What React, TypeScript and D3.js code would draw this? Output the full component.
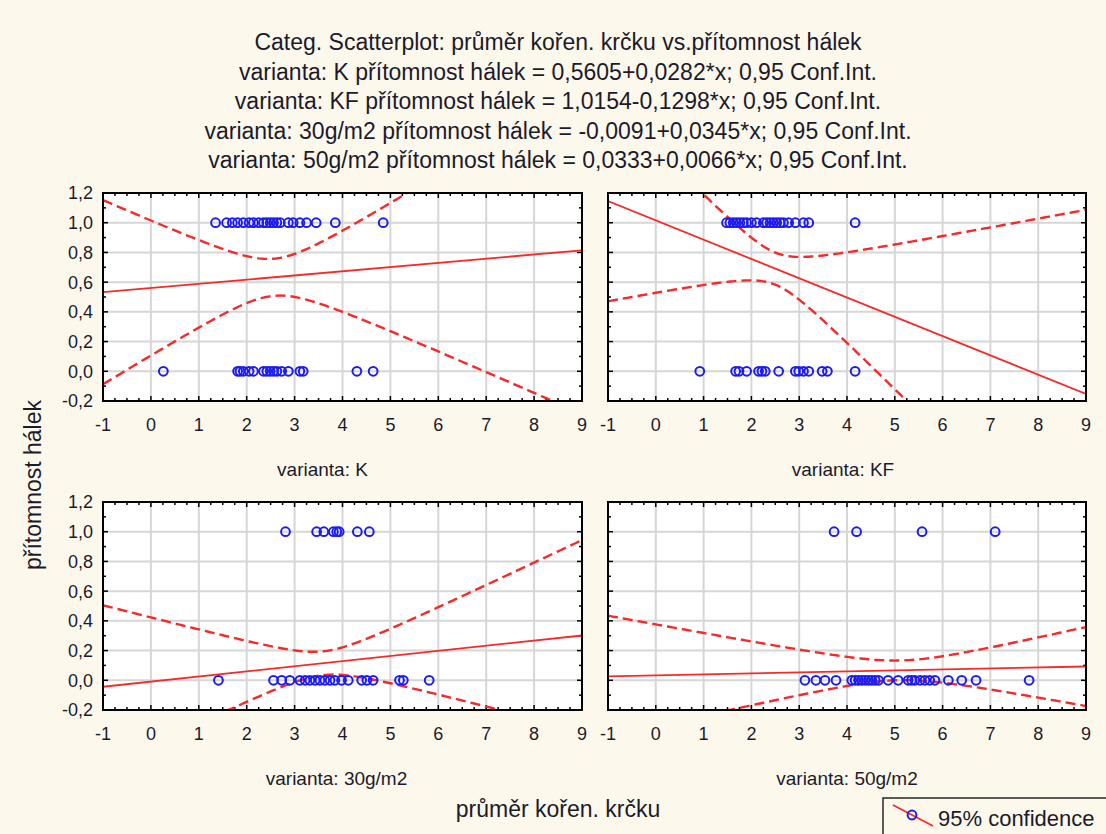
import React from "react";
import * as d3 from "d3";

// ---- data ----
const panelNames = ["K", "KF", "30g/m2", "50g/m2"];
const equations = [
  "0,5605+0,0282*x",
  "1,0154-0,1298*x",
  "-0,0091+0,0345*x",
  "0,0333+0,0066*x",
];
const intercepts = [0.5605, 1.0154, -0.0091, 0.0333];
const slopes = [0.0282, -0.1298, 0.0345, 0.0066];

// 95% confidence band: center of x, half width at center, growth term
const ciCenterX = [2.57, 2.5, 3.6, 5.1];
const ciHalfAtCenter = [0.125, 0.108, 0.08, 0.066];
const ciGrowth = [0.17, 0.19, 0.118, 0.066];

// průměr kořen. krčku values where přítomnost hálek = 1 / = 0
const kOne = [1.35, 1.58, 1.7, 1.81, 1.93, 2.05, 2.14, 2.25, 2.35, 2.42, 2.49, 2.56, 2.63, 2.7, 2.87, 2.97, 3.11, 3.25, 3.45, 3.85, 4.85];
const kZero = [0.26, 1.81, 1.86, 1.93, 2.05, 2.14, 2.35, 2.42, 2.49, 2.56, 2.63, 2.73, 2.87, 3.11, 3.18, 4.3, 4.64];
const kfOne = [1.48, 1.55, 1.62, 1.69, 1.76, 1.83, 1.9, 2.0, 2.11, 2.25, 2.32, 2.39, 2.46, 2.53, 2.6, 2.67, 2.78, 2.92, 3.09, 3.2, 4.17];
const kfZero = [0.92, 1.67, 1.74, 1.9, 2.15, 2.22, 2.29, 2.57, 2.92, 2.99, 3.09, 3.2, 3.48, 3.59, 4.17];
const g30One = [2.81, 3.46, 3.61, 3.81, 3.88, 3.93, 4.31, 4.56];
const g30Zero = [1.41, 2.56, 2.73, 2.9, 3.11, 3.22, 3.32, 3.43, 3.53, 3.63, 3.74, 3.84, 3.98, 4.12, 4.4, 4.51, 4.64, 5.19, 5.27, 5.81];
const g50One = [3.73, 4.2, 5.57, 7.1];
const g50Zero = [3.12, 3.35, 3.54, 3.77, 4.1, 4.17, 4.24, 4.31, 4.38, 4.45, 4.52, 4.59, 4.66, 4.86, 5.07, 5.28, 5.35, 5.42, 5.53, 5.63, 5.73, 5.84, 6.12, 6.4, 6.7, 7.81];
const onesByPanel = [kOne, kfOne, g30One, g50One];
const zerosByPanel = [kZero, kfZero, g30Zero, g50Zero];

const xTicks = [-1, 0, 1, 2, 3, 4, 5, 6, 7, 8, 9];
const yTicks = [-0.2, 0, 0.2, 0.4, 0.6, 0.8, 1.0, 1.2];

// ---- layout ----
const W = 1106;
const H = 834;
const COLS = [
  [103, 582],
  [608, 1086],
];
const ROWS = [
  [193, 401],
  [502, 710],
];
const LABEL_SHIFT = [-20, -4, -6, 0]; // panel caption offsets
const FONT = "'Liberation Sans', Arial, sans-serif";
const BG = "#fdf8ec";
const RED = "#f52a2a";
const BLUE = "#1c1cf0";
const INK = "#1b1b2b";

const fmt = (v: number) => d3.format(".1f")(v).replace(".", ",").replace("−", "-");

function Panel({ i }: { i: number }) {
  const [x0, x1] = COLS[i % 2];
  const [y0, y1] = ROWS[Math.floor(i / 2)];
  const x = d3.scaleLinear().domain([-1, 9]).range([x0, x1]);
  const y = d3.scaleLinear().domain([-0.2, 1.2]).range([y1, y0]);
  const fit = (v: number) => intercepts[i] + slopes[i] * v;
  const half = (v: number) =>
    Math.sqrt(ciHalfAtCenter[i] ** 2 + (ciGrowth[i] * (v - ciCenterX[i])) ** 2);
  const xs = d3.range(-1, 9.0001, 0.05);
  const line = d3
    .line<number>()
    .x((v) => x(v))
    .y((v) => y(fit(v)));
  const upper = d3
    .line<number>()
    .x((v) => x(v))
    .y((v) => y(fit(v) + half(v)));
  const lower = d3
    .line<number>()
    .x((v) => x(v))
    .y((v) => y(fit(v) - half(v)));
  const minorX = d3.range(-1, 9.0001, 0.25);
  const minorY = d3.range(-0.2, 1.2001, 0.1);
  const clipId = `clip-${i}`;
  const leftCol = i % 2 === 0;
  const cx = (x0 + x1) / 2 + LABEL_SHIFT[i];

  return (
    <g>
      <defs>
        <clipPath id={clipId}>
          <rect x={x0} y={y0} width={x1 - x0} height={y1 - y0} />
        </clipPath>
      </defs>
      <rect x={x0} y={y0} width={x1 - x0} height={y1 - y0} fill="#fff" />
      {/* grid */}
      {xTicks.slice(1, -1).map((t) => (
        <line key={"gx" + t} x1={x(t)} x2={x(t)} y1={y0} y2={y1} stroke="#d6d6d6" strokeWidth={2} />
      ))}
      {yTicks.slice(1, -1).map((t) => (
        <line key={"gy" + t} x1={x0} x2={x1} y1={y(t)} y2={y(t)} stroke="#d6d6d6" strokeWidth={2} />
      ))}
      {/* minor/major ticks, inward on all sides */}
      {minorX.map((t, k) => {
        const len = k % 4 === 0 ? 5 : 3;
        return (
          <g key={"tx" + k}>
            <line x1={x(t)} x2={x(t)} y1={y0} y2={y0 + len} stroke="#000" strokeWidth={1.5} />
            <line x1={x(t)} x2={x(t)} y1={y1} y2={y1 - len} stroke="#000" strokeWidth={1.5} />
          </g>
        );
      })}
      {minorY.map((t, k) => {
        const len = k % 2 === 0 ? 5 : 3;
        return (
          <g key={"ty" + k}>
            <line x1={x0} x2={x0 + len} y1={y(t)} y2={y(t)} stroke="#000" strokeWidth={1.5} />
            <line x1={x1} x2={x1 - len} y1={y(t)} y2={y(t)} stroke="#000" strokeWidth={1.5} />
          </g>
        );
      })}
      {/* regression + confidence */}
      <g clipPath={`url(#${clipId})`} fill="none" stroke={RED}>
        <path d={line([-1, 9]) || ""} strokeWidth={1.8} />
        <path d={upper(xs) || ""} strokeWidth={2.4} strokeDasharray="10 5" />
        <path d={lower(xs) || ""} strokeWidth={2.4} strokeDasharray="10 5" />
      </g>
      {/* points */}
      <g fill="none" stroke={BLUE} strokeWidth={2}>
        {onesByPanel[i].map((v, k) => (
          <circle key={"o" + k} cx={x(v)} cy={y(1)} r={4.4} />
        ))}
        {zerosByPanel[i].map((v, k) => (
          <circle key={"z" + k} cx={x(v)} cy={y(0)} r={4.4} />
        ))}
      </g>
      <rect x={x0} y={y0} width={x1 - x0} height={y1 - y0} fill="none" stroke="#000" strokeWidth={2} />
      {/* tick labels */}
      <g fontFamily={FONT} fontSize={18} fill={INK}>
        {xTicks.map((t) => (
          <text key={"lx" + t} x={x(t)} y={y1 + 30} textAnchor="middle">
            {t}
          </text>
        ))}
        {leftCol &&
          yTicks.map((t) => (
            <text key={"ly" + t} x={x0 - 10} y={y(t)} dy="0.36em" textAnchor="end">
              {fmt(t)}
            </text>
          ))}
      </g>
      <text x={cx} y={y1 + 75} textAnchor="middle" fontFamily={FONT} fontSize={19} fill={INK}>
        {`varianta: ${panelNames[i]}`}
      </text>
    </g>
  );
}

export default function App() {
  const titleLines = [
    "Categ. Scatterplot: průměr kořen. krčku vs.přítomnost hálek",
    ...panelNames.map(
      (n, i) => `varianta: ${n} přítomnost hálek = ${equations[i]}; 0,95 Conf.Int.`
    ),
  ];
  return (
    <svg
      width={W}
      height={H}
      style={{ position: "absolute", left: 0, top: 0, display: "block" }}
    >
      <rect width={W} height={H} fill={BG} />
      <g fontFamily={FONT} fontSize={23} fill={INK} textAnchor="middle">
        {titleLines.map((t, k) => (
          <text key={k} x={558} y={50 + k * 29.5}>
            {t}
          </text>
        ))}
      </g>
      {[0, 1, 2, 3].map((i) => (
        <Panel key={i} i={i} />
      ))}
      <text
        transform="translate(41,485) rotate(-90)"
        textAnchor="middle"
        fontFamily={FONT}
        fontSize={23}
        fill={INK}
      >
        přítomnost hálek
      </text>
      <text x={558} y={817} textAnchor="middle" fontFamily={FONT} fontSize={23} fill={INK}>
        průměr kořen. krčku
      </text>
      {/* legend */}
      <rect x={883} y={798} width={260} height={60} fill="none" stroke="#333" strokeWidth={1.6} />
      <line x1={893} y1={805} x2={933} y2={826} stroke={RED} strokeWidth={1.8} />
      <circle cx={912} cy={815} r={4.4} fill="none" stroke={BLUE} strokeWidth={2} />
      <text x={938} y={826} fontFamily={FONT} fontSize={22} fill={INK}>
        95% confidence
      </text>
    </svg>
  );
}
